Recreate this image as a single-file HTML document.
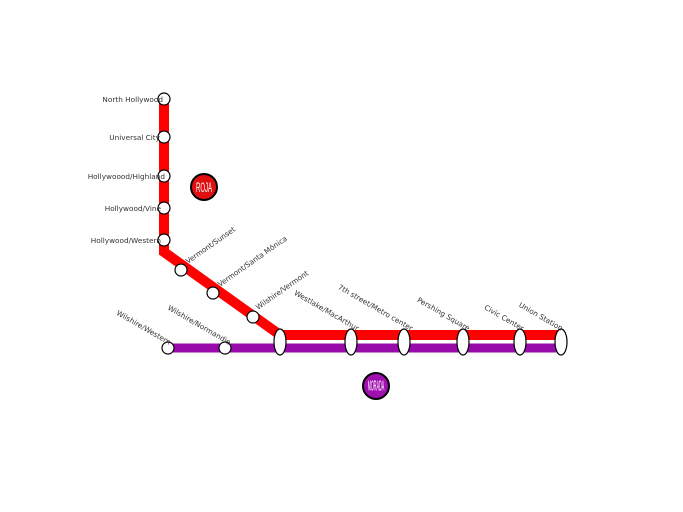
<!DOCTYPE html>
<html><head><style>html,body{margin:0;padding:0;background:#fff;}svg{display:block}</style></head>
<body>
<svg width="683" height="512" viewBox="0 0 683 512" xmlns="http://www.w3.org/2000/svg" font-family="DejaVu Sans, Liberation Sans, sans-serif" font-size="7.3" fill="#333">
<rect x="168" y="343.5" width="393" height="9" fill="#990aab"/>
<polyline points="164,99 164,252 280,335 561,335" fill="none" stroke="#f00" stroke-width="10" stroke-linejoin="miter"/>
<g fill="#fff" stroke="#000" stroke-width="1.2">
<circle cx="164" cy="99" r="6"/>
<circle cx="164" cy="137" r="6"/>
<circle cx="164" cy="176" r="6"/>
<circle cx="164" cy="208" r="6"/>
<circle cx="164" cy="240" r="6"/>
<circle cx="181" cy="270" r="6"/>
<circle cx="213" cy="293" r="6"/>
<circle cx="253" cy="317" r="6"/>
<circle cx="168" cy="348" r="6"/>
<circle cx="225" cy="348" r="6"/>
<ellipse cx="280" cy="342" rx="6" ry="13"/>
<ellipse cx="351" cy="342" rx="6" ry="13"/>
<ellipse cx="404" cy="342" rx="6" ry="13"/>
<ellipse cx="463" cy="342" rx="6" ry="13"/>
<ellipse cx="520" cy="342" rx="6" ry="13"/>
<ellipse cx="561" cy="342" rx="6" ry="13"/>
</g>
<g text-anchor="end">
<text x="163" y="102">North Hollywood</text>
<text x="160" y="140">Universal City</text>
<text x="165" y="179">Hollywoood/Highland</text>
<text x="161" y="211">Hollywood/Vine</text>
<text x="161" y="243">Hollywood/Western</text>
</g>
<g>
<text transform="translate(188,264) rotate(-35)">Vermont/Sunset</text>
<text transform="translate(220,287) rotate(-35)">Vermont/Santa Mônica</text>
<text transform="translate(258,310) rotate(-35)">Wilshire/Vermont</text>
</g>
<g text-anchor="end">
<text transform="translate(169,345) rotate(30)">Wilshire/Western</text>
<text transform="translate(229,345) rotate(30)">Wilshire/Normandie</text>
<text transform="translate(357,331) rotate(30)">Westlake/MacArthur</text>
<text transform="translate(411,331) rotate(30)">7th street/Metro center</text>
<text transform="translate(468,331) rotate(30)">Pershing Square</text>
<text transform="translate(522,331) rotate(30)">Civic Center</text>
<text transform="translate(561,331) rotate(30)">Union Station</text>
</g>
<circle cx="204" cy="187" r="13" fill="#e01010" stroke="#000" stroke-width="2"/>
<text transform="translate(204,192) scale(0.6,1.4)" text-anchor="middle" fill="#fff" font-size="10" font-family="Liberation Sans, sans-serif">ROJA</text>
<circle cx="376" cy="386" r="13" fill="#a010b0" stroke="#000" stroke-width="2"/>
<text transform="translate(376,390.5) scale(0.42,1.6)" text-anchor="middle" fill="#fff" font-size="9" font-family="Liberation Sans, sans-serif">MORADA</text>
</svg>
</body></html>
